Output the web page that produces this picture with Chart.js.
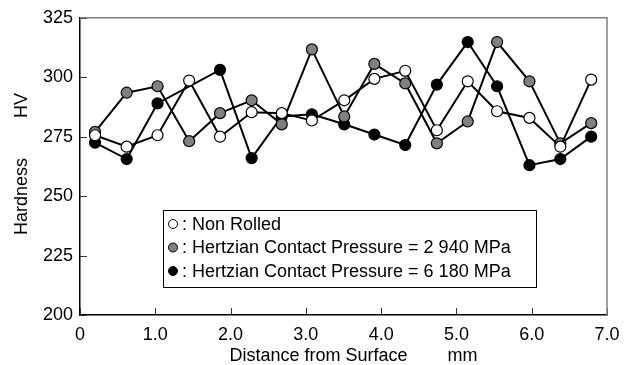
<!DOCTYPE html>
<html>
<head>
<meta charset="utf-8">
<script src="https://cdn.jsdelivr.net/npm/chart.js@4/dist/chart.umd.min.js"></script>
<style>
  html, body { margin: 0; padding: 0; background: #fff; }
  #wrap { width: 634px; height: 365px; }
</style>
</head>
<body>
<div id="wrap"><canvas id="c"></canvas></div>
<script>
// Distance from surface (mm) for each measurement
const distance = [0.2, 0.62, 1.03, 1.45, 1.86, 2.28, 2.68, 3.08, 3.51, 3.91, 4.32, 4.74, 5.15, 5.54, 5.97, 6.38, 6.79];

// Hardness HV per series
const nonRolled = [275.6, 270.8, 275.6, 298.6, 275.0, 285.3, 284.9, 281.8, 290.3, 299.3, 302.7, 277.7, 298.3, 285.7, 282.9, 270.8, 299.0];
const p2940 = [277.0, 293.5, 296.2, 273.1, 284.9, 290.3, 280.2, 311.7, 283.5, 305.6, 297.4, 272.2, 281.4, 314.8, 298.3, 272.2, 280.7];
const p6180 = [272.5, 265.6, 289.0, null, 303.1, 266.0, 283.5, 284.4, 280.2, 275.9, 271.5, 296.9, 314.8, 296.2, 263.0, 265.6, 275.0];

const seriesNames = [
  ': Non Rolled',
  ': Hertzian Contact Pressure = 2 940 MPa',
  ': Hertzian Contact Pressure = 6 180 MPa',
];

const xTickLabels = ['0', '1.0', '2.0', '3.0', '4.0', '5.0', '6.0', '7.0'];
const yTickLabels = ['200', '225', '250', '275', '300', '325'];

const FONT = "'Liberation Sans', Arial, sans-serif";

const toPoints = (vals) => distance.map((x, i) => ({ x, y: vals[i] }));

function series(label, vals, fill) {
  return {
    label,
    data: toPoints(vals),
    showLine: true,
    spanGaps: true,
    borderColor: '#000',
    borderWidth: 2,
    pointRadius: 5.5,
    pointBorderWidth: 1.2,
    pointBorderColor: '#000',
    pointBackgroundColor: fill,
    tension: 0,
  };
}

// inward tick marks + grey top/right frame
const framePlugin = {
  id: 'frame',
  beforeDatasetsDraw(chart) {
    const { ctx, chartArea: a, scales } = chart;
    ctx.save();
    ctx.strokeStyle = '#333';
    ctx.lineWidth = 1;
    scales.y.ticks.forEach(t => {
      const y = Math.round(scales.y.getPixelForValue(t.value)) + 0.5;
      ctx.beginPath(); ctx.moveTo(a.left, y); ctx.lineTo(a.left + 7, y); ctx.stroke();
    });
    scales.x.ticks.forEach(t => {
      const x = Math.round(scales.x.getPixelForValue(t.value)) + 0.5;
      ctx.beginPath(); ctx.moveTo(x, a.bottom); ctx.lineTo(x, a.bottom - 7); ctx.stroke();
    });
    ctx.strokeStyle = '#808080';
    ctx.lineWidth = 1.5;
    ctx.beginPath();
    ctx.moveTo(a.left, a.top);
    ctx.lineTo(a.right, a.top);
    ctx.lineTo(a.right, a.bottom);
    ctx.stroke();
    ctx.restore();
  },
};

// boxed legend inside the plot
const boxLegend = {
  id: 'boxLegend',
  afterDraw(chart) {
    const { ctx } = chart;
    ctx.save();
    ctx.fillStyle = '#fff';
    ctx.fillRect(163.5, 210.5, 373, 77);
    ctx.strokeStyle = '#000';
    ctx.lineWidth = 1;
    ctx.strokeRect(163.5, 210.5, 373, 77);
    ctx.font = '18px ' + FONT;
    ctx.textBaseline = 'middle';
    chart.data.datasets.forEach((ds, i) => {
      const y = 224 + i * 23.5;
      ctx.beginPath();
      ctx.arc(173, y, 4.5, 0, Math.PI * 2);
      ctx.fillStyle = ds.pointBackgroundColor;
      ctx.fill();
      ctx.lineWidth = 1;
      ctx.strokeStyle = '#000';
      ctx.stroke();
      ctx.fillStyle = '#000';
      ctx.fillText(ds.label, 182, y + 1);
    });
    ctx.restore();
  },
};

new Chart(document.getElementById('c'), {
  type: 'scatter',
  data: {
    datasets: [
      series(seriesNames[0], nonRolled, '#fff'),
      series(seriesNames[1], p2940, '#808080'),
      series(seriesNames[2], p6180, '#000'),
    ],
  },
  options: {
    responsive: true,
    maintainAspectRatio: false,
    animation: false,
    events: [],
    layout: { padding: { top: 12, right: 27, left: 0, bottom: 0 } },
    plugins: {
      legend: { display: false },
      tooltip: { enabled: false },
    },
    scales: {
      x: {
        type: 'linear',
        min: 0,
        max: 7,
        afterFit: (s) => { s.height = 50; },
        afterBuildTicks: (s) => { s.ticks = xTickLabels.map((_, i) => ({ value: i })); },
        grid: { display: true, drawOnChartArea: false, drawTicks: false },
        border: { color: '#000', width: 1.5 },
        ticks: {
          padding: 9,
          color: '#000',
          font: { family: FONT, size: 18 },
          callback: (v, i) => xTickLabels[i],
        },
        title: {
          display: true,
          text: '    Distance from Surface        mm',
          color: '#000',
          font: { family: FONT, size: 18, lineHeight: 1 },
          padding: { top: 0, bottom: 0 },
        },
      },
      y: {
        min: 200,
        max: 325,
        afterFit: (s) => { s.width = 80; },
        afterBuildTicks: (s) => { s.ticks = yTickLabels.map(v => ({ value: Number(v) })); },
        grid: { display: true, drawOnChartArea: false, drawTicks: false },
        border: { color: '#000', width: 1.5 },
        ticks: {
          padding: 7,
          color: '#000',
          font: { family: FONT, size: 18 },
          callback: (v, i) => yTickLabels[i],
        },
        title: {
          display: true,
          text: ' Hardness        HV',
          color: '#000',
          font: { family: FONT, size: 18, lineHeight: 1 },
          padding: { top: 13, bottom: 0 },
        },
      },
    },
  },
  plugins: [framePlugin, boxLegend],
});
</script>
</body>
</html>
